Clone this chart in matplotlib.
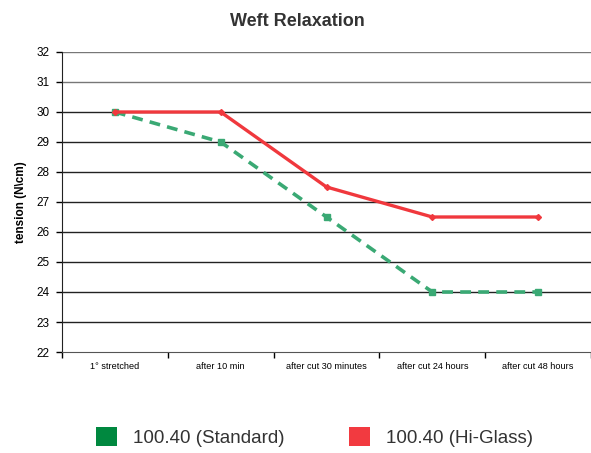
import matplotlib
matplotlib.use("Agg")
import matplotlib.pyplot as plt
from matplotlib.patches import Patch

categories = ["1° stretched", "after 10 min", "after cut 30 minutes", "after cut 24 hours", "after cut 48 hours"]
standard = [30, 29, 26.5, 24, 24]
higlass = [30, 30, 27.5, 26.5, 26.5]
series_names = ["100.40 (Standard)", "100.40 (Hi-Glass)"]
yticks = [22, 23, 24, 25, 26, 27, 28, 29, 30, 31, 32]

plt.rcParams['font.family'] = ['Liberation Sans', 'DejaVu Sans']

fig = plt.figure(figsize=(5.91, 4.53), dpi=100)
ax = fig.add_axes([62/591, 1-352/453, 1-62/591, 300/453])

x = list(range(len(categories)))
ax.plot(x, standard, color="#3aa974", lw=2.6, ls=(0, (3, 2)), marker="s", ms=4, zorder=3)
ax.plot(x, higlass, color="#f0383d", lw=2.4, marker="D", ms=3, zorder=4)

ax.set_xlim(-0.5, len(categories) - 0.5)
ax.set_ylim(22, 32)
ax.set_yticks(yticks)
ax.set_yticklabels([str(v) for v in yticks], fontsize=8.5)
ax.set_xticks(x)
ax.set_xticklabels(categories, fontsize=6.6)
ax.set_xticks([i - 0.5 for i in range(len(categories) + 1)], minor=True)
ax.tick_params(axis="x", which="major", length=0, pad=7)
ax.tick_params(axis="x", which="minor", length=4, width=1, direction="out")
ax.tick_params(axis="y", length=4, width=1, pad=5)

for v in yticks[1:]:
    ax.axhline(v, color="#777777" if v in (31, 32) else "#222222", lw=1, zorder=1)
for s in ["top", "right"]:
    ax.spines[s].set_visible(False)
ax.spines["left"].set_color("#222222")
ax.spines["bottom"].set_color("#555555")

ax.set_ylabel("tension (N\\cm)", fontsize=8.5, fontweight="bold", labelpad=7)
fig.text(297/591, 1-21/453, "Weft Relaxation", ha="center", va="center",
         fontsize=13, fontweight="bold", color="#333333")

handles = [Patch(facecolor="#00883f"), Patch(facecolor="#f23a40")]
fig.legend(handles, series_names, loc="center", bbox_to_anchor=(314.5/591, 1-437/453),
           ncol=2, frameon=False, fontsize=13.5, handlelength=1.15, handleheight=1.15,
           columnspacing=3.4, handletextpad=0.85, labelcolor="#333333")

fig.savefig("out.png", dpi=100)
